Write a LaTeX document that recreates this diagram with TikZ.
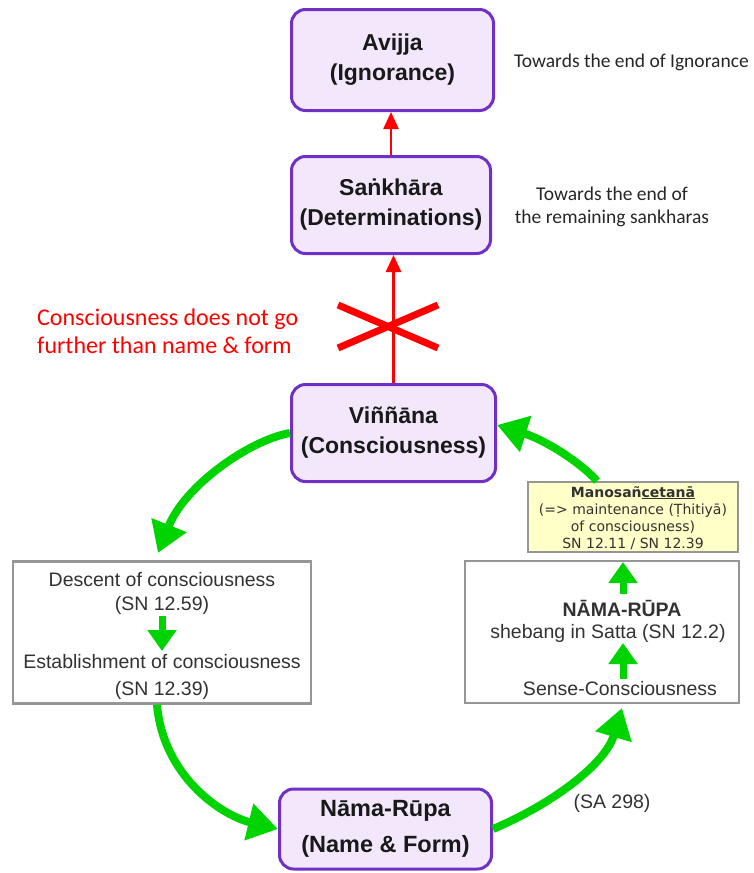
\documentclass[tikz,border=0pt]{standalone}
\usepackage{fontspec}
\setmainfont{Liberation Sans}
\newfontfamily\carl{Carlito}
\newfontfamily\dvs{DejaVu Sans}
\usetikzlibrary{arrows.meta}
\definecolor{pborder}{RGB}{112,48,200}
\definecolor{pfill}{RGB}{243,231,252}
\definecolor{ggreen}{RGB}{0,212,0}
\definecolor{rred}{RGB}{255,0,0}
\definecolor{gborder}{RGB}{150,150,150}
\definecolor{yfill}{RGB}{255,255,200}
\definecolor{txtgray}{RGB}{50,50,50}
\newcommand\ndot{\ooalign{n\cr\hidewidth\char"02D9\hidewidth\cr}}
\begin{document}
\begin{tikzpicture}[x=1pt,y=-1pt,
  pbox/.style={draw=pborder, line width=3pt, fill=pfill, rounded corners=14pt, align=center, inner sep=0pt, text=black!90, font=\fontsize{23}{30}\selectfont\bfseries},
  wbox/.style={draw=gborder, line width=2.5pt, fill=white, inner sep=0pt},
  ybox/.style={draw=gborder, line width=2pt, fill=yfill, inner sep=0pt},
  wtext/.style={font=\fontsize{19.5}{23}\selectfont, text=txtgray, inner sep=0pt},
  ytext/.style={font=\dvs\fontsize{14}{17}\selectfont, text=txtgray, inner sep=0pt},
  anno/.style={font=\carl\fontsize{19.5}{23}\selectfont, inner sep=0pt, align=center, text=black!85},
  rarrow/.style={draw=rred, line width=2.5pt, -{Triangle[width=15pt,length=17pt]}},
  xline/.style={draw=rred, line width=7pt},
  garrow/.style={draw=ggreen, line width=8pt, -{Triangle[width=36pt,length=30pt]}},
  sarrow/.style={draw=ggreen, line width=7pt, -{Triangle[width=28pt,length=21pt]}},
]
\useasboundingbox (0,0) rectangle (753,873);

% purple boxes
\node[pbox, minimum width=202pt, minimum height=101pt] (avijja) at (392.5,60) {Avijja\\(Ignorance)};
\node[pbox, minimum width=199pt, minimum height=97pt] (sankhara) at (391,205) {Sa\ndot kh\=ara\\(Determinations)};
\node[pbox, minimum width=204pt, minimum height=97pt] (vinnana) at (393.5,433) {Viññāna\\(Consciousness)};
\node[pbox, minimum width=212pt, minimum height=80pt, font=\fontsize{23.5}{36}\selectfont\bfseries] (namarupa) at (385.5,829) {Nāma-Rūpa\\(Name \& Form)};

% annotations
\node[anno, anchor=west] (t1) at (514,62) {Towards the end of Ignorance};
\node[anno] (t2) at (612,207) {Towards the end of\\the remaining sankharas};
\node[anno, anchor=west, align=left, text=rred, font=\carl\fontsize{24}{28}\selectfont] (redtxt) at (37,331) {Consciousness does not go\\further than name \& form};

% red arrows and cross
\draw[rarrow] (sankhara.north) -- (sankhara.north |- avijja.south);
\draw[rarrow] (vinnana.north) -- (vinnana.north |- sankhara.south);
\coordinate (xa) at (338,305);
\coordinate (xb) at (438,348);
\coordinate (xc) at (338,348);
\coordinate (xd) at (438,305);
\draw[xline] (xa) -- (xb);
\draw[xline] (xc) -- (xd);

% left white box
\node[wbox, minimum width=298pt, minimum height=142pt] (lbox) at (162,632.5) {};
\node[wtext, anchor=base] (desc) at (162,586) {Descent of consciousness};
\node[wtext, anchor=base] (desc2) at (162,610) {(SN 12.59)};
\node[wtext, anchor=base] (estab) at (162,668) {Establishment of consciousness};
\node[wtext, anchor=base] (estab2) at (162,695) {(SN 12.39)};
\coordinate (la1) at (162,616);
\coordinate (la2) at (162,651);
\draw[sarrow] (la1) -- (la2);

% right white box
\node[wbox, minimum width=274pt, minimum height=142pt] (rbox) at (602,632) {};
\node[ybox, minimum width=210pt, minimum height=70pt] (ybox) at (633,517) {};
\node[ytext, anchor=base, font=\dvs\bfseries\fontsize{14}{17}\selectfont] (y1) at (633,497) {Manosañ\underline{cetanā}};
\node[ytext, anchor=base] (y2) at (633,514) {(=> maintenance (Ṭhitiyā)};
\node[ytext, anchor=base] (y3) at (633,531) {of consciousness)};
\node[ytext, anchor=base] (y4) at (633,548) {SN 12.11 / SN 12.39};
\node[wtext, anchor=base, font=\fontsize{19.5}{23}\selectfont\bfseries] (nr) at (622,616) {NĀMA-RŪPA};
\node[wtext, anchor=base] (sheb) at (608,638) {shebang in Satta (SN 12.2)};
\node[wtext, anchor=base] (sense) at (620,695) {Sense-Consciousness};
\coordinate (ra1) at (623,594);
\coordinate (ra2) at (623,562);
\coordinate (ra3) at (623,679);
\coordinate (ra4) at (623,643);
\draw[sarrow] (ra1) -- (ra2);
\draw[sarrow] (ra3) -- (ra4);

\node[wtext, anchor=base] (sa) at (612,808) {(SA 298)};

% big green arrows
\coordinate (a1e) at (158,553);
\draw[garrow] (vinnana.west) .. controls (250,440) and (185,485) .. (a1e);
\draw[garrow] ([xshift=-5pt]lbox.south) .. controls (163,775) and (220,815) .. (namarupa.west);
\coordinate (a3e) at (622,708);
\draw[garrow] (namarupa.east) .. controls (550,805) and (605,765) .. (a3e);
\draw[garrow] ([xshift=-36pt]ybox.north) .. controls (580,462) and (545,440) .. ([yshift=8pt]vinnana.east);
\end{tikzpicture}
\end{document}
